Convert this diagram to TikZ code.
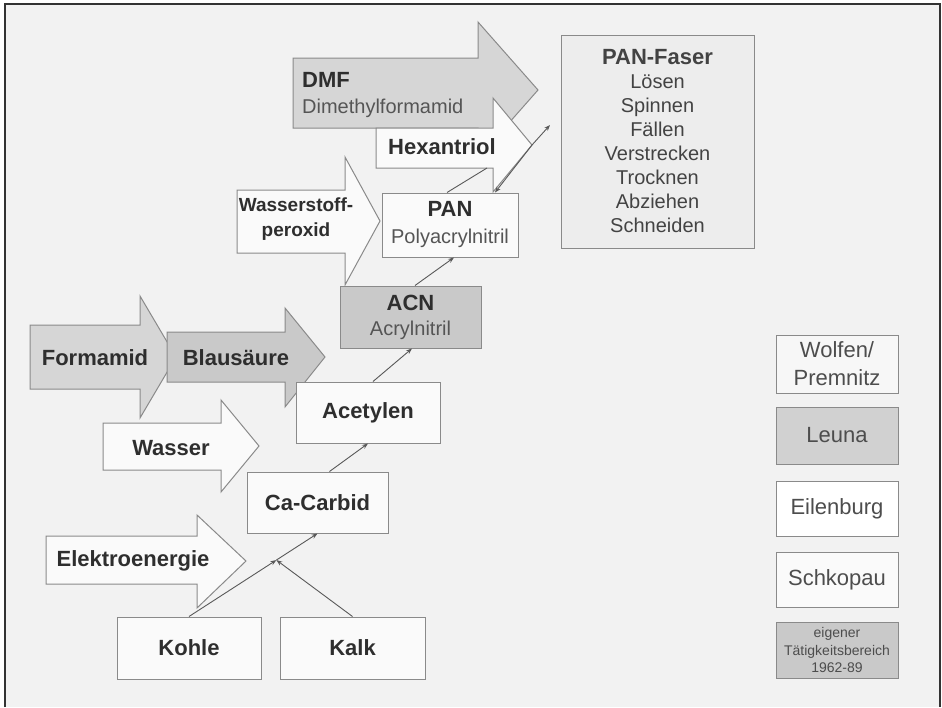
\documentclass[tikz,border=0pt]{standalone}
\usepackage{fontspec}
\setmainfont{Liberation Sans}
\usetikzlibrary{arrows.meta,calc}
\definecolor{bgc}{HTML}{F2F2F2}
\definecolor{fillA}{HTML}{D6D6D6}
\definecolor{fillB}{HTML}{C9C9C9}
\definecolor{fillW}{HTML}{FAFAFA}
\definecolor{fillF}{HTML}{EDEDED}
\definecolor{edgec}{HTML}{8A8A8A}
\definecolor{txtc}{HTML}{2E2E2E}
\definecolor{subc}{HTML}{555555}
\definecolor{framec}{HTML}{333333}
\newcommand\blockarrow[9]{%
  \filldraw[arrowshape, fill=#1] (#2,#3) -- (#5,#3) -- (#5,#6) -- (#8,#9) -- (#5,#7) -- (#5,#4) -- (#2,#4) -- cycle;}
\tikzset{
  box/.style={draw=edgec, line width=1pt, rectangle, inner sep=0pt, align=center, text=txtc},
  arrowshape/.style={draw=edgec, line width=1pt, line join=miter},
  lbl/.style={font=\fontsize{22}{26}\selectfont\bfseries, text=txtc, inner sep=0pt},
  sublbl/.style={font=\fontsize{20}{24}\selectfont, text=subc, inner sep=0pt},
  legtext/.style={font=\fontsize{22}{28}\selectfont, text=txtc!85},
  conn/.style={draw=black!65, line width=0.9pt},
  tipend/.style={-{Stealth[length=6pt,width=4.5pt]}},
}
\begin{document}
\begin{tikzpicture}[x=1pt,y=-1pt]
\useasboundingbox (0,0) rectangle (942,707);
\fill[white] (0,0) rectangle (942,707);
\fill[bgc] (5,4) rectangle (940,707);
\draw[framec, line width=2.5pt] (5,707) -- (5,4) -- (940,4) -- (940,707);

% upper arrows
\blockarrow{fillA}{293}{58}{128}{478}{22}{158}{538}{90}
\node[lbl, anchor=west] (dmf) at (302,80) {DMF};
\node[sublbl, anchor=west] (dmfsub) at (302,108) {Dimethylformamid};
\blockarrow{fillW}{376}{128}{168}{493}{98}{192}{532}{145}
\node[lbl] (hexa) at (442,147) {Hexantriol};
\coordinate (hextip) at (532,145);
\coordinate (hexbot) at (487,168);
\coordinate (faserin) at (550,125);
\blockarrow{fillW}{237}{190}{253}{345}{157}{285}{380}{221}
\node[lbl, font=\fontsize{19}{25}\selectfont\bfseries, align=center] (h2o2) at (296,219) {Wasserstoff-\\peroxid};

% left arrows
\blockarrow{fillA}{30}{325}{389}{140}{296}{418}{176}{357}
\node[lbl] (formamid) at (95,358) {Formamid};
\blockarrow{fillB}{167}{332}{382}{285}{308}{407}{325}{357}
\node[lbl] (blaus) at (236,358) {Blausäure};
\blockarrow{fillW}{103}{423}{470}{221}{400}{492}{259}{446}
\node[lbl] (wasser) at (171,448) {Wasser};
\blockarrow{fillW}{46}{536}{584}{197}{515}{608}{246}{561}
\node[lbl] (elektro) at (133,561) {Elektroenergie};

% boxes
\node[box, fill=fillW, minimum width=136pt, minimum height=64pt, font=\fontsize{20}{27}\selectfont] (pan) at (450,225)
  {{\fontsize{22}{26}\selectfont\bfseries PAN}\\{\color{subc}Polyacrylnitril}};
\node[box, fill=fillB, minimum width=141pt, minimum height=62pt, font=\fontsize{20}{25}\selectfont] (acn) at (410.5,317)
  {{\fontsize{22}{26}\selectfont\bfseries ACN}\\{\color{subc}Acrylnitril}};
\node[box, fill=fillW, minimum width=144pt, minimum height=61pt, lbl] (acetylen) at (368,412.5) {Acetylen};
\node[box, fill=fillW, minimum width=141pt, minimum height=61pt, lbl] (cacarbid) at (317.5,502.5) {Ca-Carbid};
\node[box, fill=fillW, minimum width=144pt, minimum height=62pt, lbl] (kohle) at (189,648) {Kohle};
\node[box, fill=fillW, minimum width=145pt, minimum height=62pt, lbl] (kalk) at (352.5,648) {Kalk};

\node[box, fill=fillF, minimum width=193pt, minimum height=213pt,
      font=\fontsize{20}{24}\selectfont, text=txtc!90] (faser) at (657.5,141.5)
  {{\fontsize{22}{24}\selectfont\bfseries PAN-Faser}\\Lösen\\Spinnen\\Fällen\\Verstrecken\\Trocknen\\Abziehen\\Schneiden};

% legend
\node[box, fill=fillW!60!bgc, minimum width=122pt, minimum height=58pt, legtext] (wolfen) at (837,364) {Wolfen/\\Premnitz};
\node[box, fill=fillB!80!bgc, minimum width=122pt, minimum height=57pt, legtext] (leuna) at (837,435.5) {Leuna};
\node[box, fill=white, minimum width=122pt, minimum height=55pt, legtext] (eilenburg) at (837,508.5) {Eilenburg};
\node[box, fill=fillW, minimum width=122pt, minimum height=55pt, legtext] (schkopau) at (837,579.5) {Schkopau};
\node[box, fill=fillB, minimum width=122pt, minimum height=56pt, font=\fontsize{14}{17.5}\selectfont, text=txtc!85] (eigener) at (837,650) {eigener\\Tätigkeitsbereich\\1962-89};

% connectors
\coordinate (junc) at ($(kohle.north)!0.68!(cacarbid.south)$);
\draw[conn,tipend] (kohle.north) -- (junc);
\draw[conn,tipend] (kalk.north) -- (junc);
\draw[conn,tipend] (junc) -- (cacarbid.south);
\draw[conn,tipend] ([xshift=12pt]cacarbid.north) -- (acetylen.south);
\draw[conn,tipend] ([xshift=5pt]acetylen.north) -- ([xshift=1.5pt]acn.south);
\draw[conn,tipend] ([xshift=4.5pt]acn.north) -- ([xshift=4pt]pan.south);
\draw[conn] ([xshift=-3pt]pan.north) -- (hexbot);
\draw[conn,tipend] (hextip) -- ([xshift=45pt]pan.north);
\draw[conn,tipend] (hextip) -- (faserin);
\end{tikzpicture}
\end{document}
